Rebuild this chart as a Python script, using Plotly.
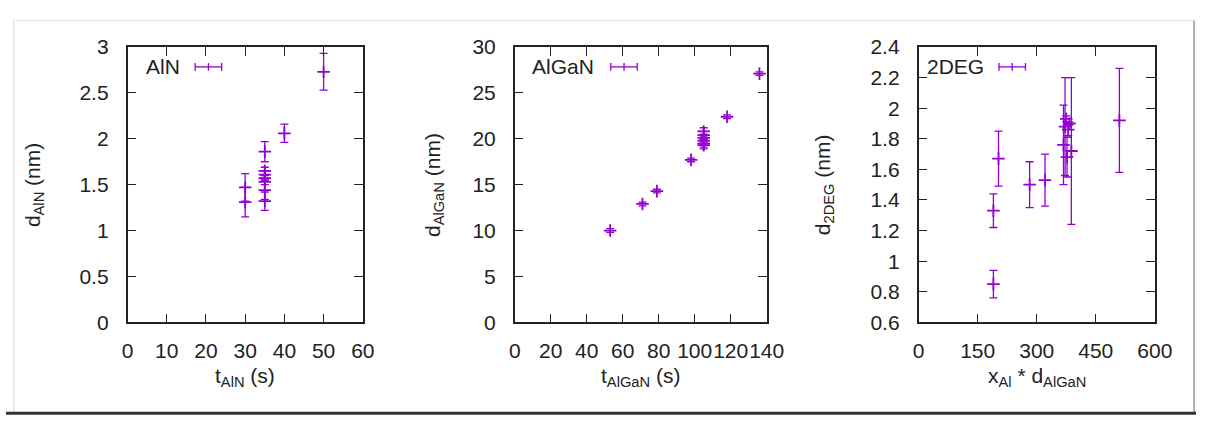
import plotly.graph_objects as go

# ---- data ----
aln_t = [30, 30, 35, 35, 35, 35, 35, 35, 35, 40, 50]
aln_d = [1.47, 1.31, 1.86, 1.65, 1.61, 1.57, 1.53, 1.44, 1.32, 2.06, 2.73]
aln_err = [0.15, 0.16, 0.11, 0.04, 0.04, 0.03, 0.03, 0.10, 0.10, 0.10, 0.20]

algan_t = [53, 71, 79, 98, 105, 105, 105, 105, 105, 105, 118, 136]
algan_d = [10.0, 12.9, 14.3, 17.7, 20.8, 20.4, 20.1, 19.8, 19.5, 19.3, 22.4, 27.1]
algan_err = [0.2, 0.2, 0.2, 0.2, 0.4, 0.4, 0.4, 0.4, 0.4, 0.4, 0.2, 0.2]

deg_x = [190, 190, 203, 282, 321, 368, 372, 375, 377, 380, 383, 388, 510]
deg_d = [0.85, 1.33, 1.67, 1.50, 1.53, 1.76, 1.88, 1.93, 1.68, 1.86, 1.90, 1.72, 1.92]
deg_err = [0.09, 0.11, 0.18, 0.15, 0.17, 0.26, 0.32, 0.02, 0.13, 0.04, 0.01, 0.48, 0.34]

legend_names = ["AlN", "AlGaN", "2DEG"]
x_titles = ["t<sub>AlN</sub> (s)", "t<sub>AlGaN</sub> (s)", "x<sub>Al</sub> * d<sub>AlGaN</sub>"]
y_titles = ["d<sub>AlN</sub> (nm)", "d<sub>AlGaN</sub> (nm)", "d<sub>2DEG</sub> (nm)"]

W, H = 1214, 427
COLOR = "#9400D3"
TXT = "#222222"
FONT = "Liberation Sans"
FS = 21

# panel pixel boxes (left, right, top, bottom)
boxes = [(124, 364, 37, 328), (519, 776, 37, 328), (931, 1172, 37, 328)]
ranges_x = [[0, 60], [0, 140], [0, 600]]
ranges_y = [[0, 3], [0, 30], [0.6, 2.4]]
dtx = [10, 20, 150]
dty = [0.5, 5, 0.2]

fig = go.Figure()
series = [(aln_t, aln_d, aln_err), (algan_t, algan_d, algan_err), (deg_x, deg_d, deg_err)]
for i, (xs, ys, es) in enumerate(series):
    sfx = "" if i == 0 else str(i + 1)
    fig.add_trace(go.Scatter(
        x=xs, y=ys, mode="markers", name=legend_names[i], showlegend=False,
        xaxis="x" + sfx, yaxis="y" + sfx,
        marker=dict(symbol="cross-thin", size=9, color=COLOR, line=dict(color=COLOR, width=1.8)),
        error_y=dict(type="data", array=es, visible=True, color=COLOR, thickness=1.3, width=4),
    ))

def px(x):
    return x / W

def py(y):
    return 1 - y / H

layout = dict(
    width=W, height=H, margin=dict(l=0, r=0, t=0, b=0),
    paper_bgcolor="white", plot_bgcolor="white", showlegend=False,
    font=dict(family=FONT, size=FS, color=TXT),
)
axis_common = dict(
    showline=True, linecolor=TXT, linewidth=1.5, mirror="ticks",
    ticks="inside", ticklen=9, tickwidth=1.3, tickcolor=TXT, tickangle=0,
    showgrid=False, zeroline=False, tickfont=dict(family=FONT, size=FS, color=TXT),
)
annotations = []
shapes = []
for i in range(3):
    sfx = "" if i == 0 else str(i + 1)
    l, r, t, b = boxes[i]
    layout["xaxis" + sfx] = dict(axis_common, domain=[px(l), px(r)], range=ranges_x[i], dtick=dtx[i],
                                 tick0=0, anchor="y" + sfx, ticklabelstandoff=9)
    layout["yaxis" + sfx] = dict(axis_common, domain=[py(b), py(t)], range=ranges_y[i], dtick=dty[i],
                                 tick0=0, anchor="x" + sfx, ticklabelstandoff=13)
    cx = (l + r) / 2
    cy = (t + b) / 2
    # x title
    annotations.append(dict(text=x_titles[i], x=px(cx), y=py(386), xref="paper", yref="paper",
                            xanchor="center", yanchor="middle", showarrow=False,
                            font=dict(family=FONT, size=FS, color=TXT)))
    # y title
    ytx = [28, 436, 834][i]
    annotations.append(dict(text=y_titles[i], x=px(ytx), y=py(cy), xref="paper", yref="paper",
                            xanchor="center", yanchor="middle", showarrow=False, textangle=-90,
                            font=dict(family=FONT, size=FS, color=TXT)))
    # legend text and sample
    text_right = [180, 602, 1000][i]
    s0 = [193, 617, 1013][i]
    s1 = s0 + 27
    ly = 58
    annotations.append(dict(text=legend_names[i], x=px(text_right), y=py(ly), xref="paper", yref="paper",
                            xanchor="right", yanchor="middle", showarrow=False,
                            font=dict(family=FONT, size=FS, color=TXT)))
    line = dict(color=COLOR, width=1.3)
    shapes.append(dict(type="line", xref="paper", yref="paper", x0=px(s0), x1=px(s1), y0=py(ly), y1=py(ly), line=line))
    for xx in (s0, s1, (s0 + s1) / 2):
        shapes.append(dict(type="line", xref="paper", yref="paper", x0=px(xx), x1=px(xx),
                           y0=py(ly - 4), y1=py(ly + 4), line=line))

# outer frame of the picture
shapes.append(dict(type="line", xref="paper", yref="paper", x0=px(8), x1=px(1212), y0=py(9), y1=py(9),
                   line=dict(color="#e6e6e6", width=1.5)))
shapes.append(dict(type="line", xref="paper", yref="paper", x0=px(8), x1=px(8), y0=py(9), y1=py(423),
                   line=dict(color="#e6e6e6", width=1.5)))
shapes.append(dict(type="line", xref="paper", yref="paper", x0=px(1212), x1=px(1212), y0=py(9), y1=py(423),
                   line=dict(color="#999999", width=1.5)))
shapes.append(dict(type="line", xref="paper", yref="paper", x0=px(0), x1=px(1214), y0=py(424), y1=py(424),
                   line=dict(color="#333333", width=3)))

layout["annotations"] = annotations
layout["shapes"] = shapes
fig.update_layout(**layout)
fig.write_html("out.html", post_script="document.body.style.margin='0';document.body.style.overflow='hidden';")
